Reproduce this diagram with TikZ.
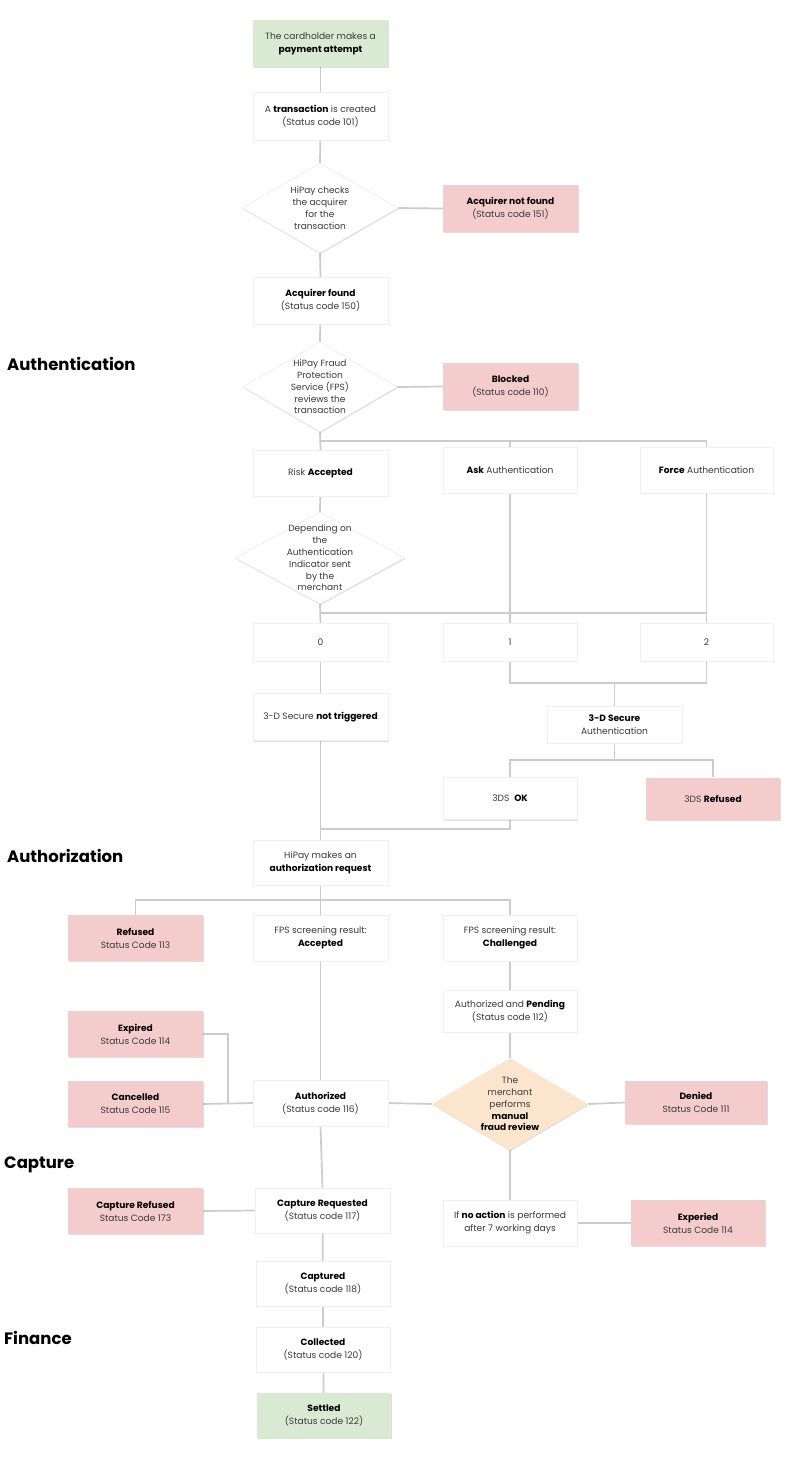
\documentclass[tikz,border=0pt]{standalone}
\usepackage{fontspec}
\setmainfont{Poppins}
\usetikzlibrary{shapes.geometric,shadows,backgrounds}
\definecolor{linec}{HTML}{CCCCCC}
\definecolor{greenc}{HTML}{D9EAD3}
\definecolor{pinkc}{HTML}{F4CCCC}
\definecolor{orangec}{HTML}{FCE5CD}
\definecolor{txtc}{HTML}{3A3A3A}
\newcommand{\bt}[1]{{\bfseries\color{black}#1}}
\tikzset{
  box/.style={rectangle, align=center, inner sep=1pt, text=txtc,
    font=\fontsize{9.1}{13}\selectfont,
    drop shadow={shadow xshift=0.8pt, shadow yshift=-1.4pt, fill=black, opacity=0.13}},
  wbox/.style={box, fill=white, draw=black!6, line width=0.4pt},
  gbox/.style={box, fill=greenc},
  pbox/.style={box, fill=pinkc},
  dia/.style={diamond, inner sep=0pt, fill=white, draw=black!9, line width=0.5pt,
    drop shadow={shadow xshift=0.6pt, shadow yshift=-1.2pt, fill=black, opacity=0.12}},
  odia/.style={dia, fill=orangec, draw=none},
  dtext/.style={align=center, text=txtc, font=\fontsize{9}{11.8}\selectfont},
  ln/.style={draw=linec, line width=1.7pt},
  head/.style={anchor=west, inner sep=0pt, font=\fontsize{16.5}{19}\selectfont\bfseries, text=black},
}
\begin{document}
\begin{tikzpicture}[x=1pt,y=-1pt]
\useasboundingbox (0,0) rectangle (800,1467);
% nodes
\node[gbox, minimum width=135pt, minimum height=47pt] (start) at (320.5,43.5) {The cardholder makes a\\\bt{payment attempt}};
\node[wbox, minimum width=135pt, minimum height=48pt] (trans) at (320.5,116) {A \bt{transaction} is created\\(Status code 101)};
\node[dia, minimum width=156pt, minimum height=90pt] (d1) at (320,208) {};
\node[dtext] (d1t) at (d1) {HiPay checks\\the acquirer\\for the\\transaction};
\node[pbox, minimum width=135pt, minimum height=47pt] (anf) at (510.5,208.5) {\bt{Acquirer not found}\\(Status code 151)};
\node[wbox, minimum width=135pt, minimum height=47pt] (afound) at (320.5,300.5) {\bt{Acquirer found}\\(Status code 150)};
\node[head] (hauth) at (7,364) {Authentication};
\node[dia, minimum width=154pt, minimum height=90pt] (d2) at (320,387) {};
\node[dtext] (d2t) at (d2) {HiPay Fraud\\Protection\\Service (FPS)\\reviews the\\transaction};
\node[pbox, minimum width=135pt, minimum height=47pt] (blocked) at (510.5,386.5) {\bt{Blocked}\\(Status code 110)};
\node[wbox, minimum width=135pt, minimum height=46pt] (risk) at (320.5,473) {Risk \bt{Accepted}};
\node[wbox, minimum width=134pt, minimum height=46pt] (ask) at (510,470) {\bt{Ask} Authentication};
\node[wbox, minimum width=133pt, minimum height=46pt] (force) at (706.5,470) {\bt{Force} Authentication};
\node[dia, minimum width=169pt, minimum height=92pt] (d3) at (320,558) {};
\node[dtext] (d3t) at (d3) {Depending on\\the\\Authentication\\Indicator sent\\by the\\merchant};
\node[wbox, minimum width=135pt, minimum height=38pt] (b0) at (320.5,642) {0};
\node[wbox, minimum width=134pt, minimum height=38pt] (b1) at (510,642) {1};
\node[wbox, minimum width=133pt, minimum height=38pt] (b2) at (706.5,642) {2};
\node[wbox, minimum width=135pt, minimum height=47pt] (nott) at (320.5,717) {3-D Secure \bt{not triggered}};
\node[wbox, minimum width=135pt, minimum height=37pt] (tds) at (614.5,724.5) {\bt{3-D Secure}\\Authentication};
\node[wbox, minimum width=134pt, minimum height=42pt] (ok) at (510,798.5) {3DS~ \bt{OK}};
\node[pbox, minimum width=134pt, minimum height=42pt] (refd) at (713,798.5) {3DS \bt{Refused}};
\node[head] (hautz) at (7,856) {Authorization};
\node[wbox, minimum width=135pt, minimum height=45pt] (areq) at (320.5,862.5) {HiPay makes an\\\bt{authorization request}};
\node[pbox, minimum width=135pt, minimum height=46pt] (refused) at (135.5,938) {\bt{Refused}\\Status Code 113};
\node[wbox, minimum width=135pt, minimum height=46pt] (fpsacc) at (320.5,938) {FPS screening result:\\\bt{Accepted}};
\node[wbox, minimum width=134pt, minimum height=46pt] (fpschal) at (510,938) {FPS screening result:\\\bt{Challenged}};
\node[wbox, minimum width=134pt, minimum height=42pt] (pend) at (510,1011) {Authorized and \bt{Pending}\\(Status code 112)};
\node[odia, minimum width=156pt, minimum height=92pt] (d4) at (510,1104) {};
\node[dtext] (d4t) at (d4) {The\\merchant\\performs\\\bt{manual}\\\bt{fraud review}};
\node[pbox, minimum width=135pt, minimum height=46pt] (expired) at (135.5,1034) {\bt{Expired}\\Status Code 114};
\node[pbox, minimum width=135pt, minimum height=46pt] (cancel) at (135.5,1104) {\bt{Cancelled}\\Status Code 115};
\node[wbox, minimum width=135pt, minimum height=46pt] (authd) at (320.5,1103) {\bt{Authorized}\\(Status code 116)};
\node[pbox, minimum width=142pt, minimum height=43pt] (denied) at (696,1102.5) {\bt{Denied}\\Status Code 111};
\node[head] (hcap) at (4,1165) {Capture};
\node[pbox, minimum width=135pt, minimum height=46pt] (capref) at (135.5,1211) {\bt{Capture Refused}\\Status Code 173};
\node[wbox, minimum width=135pt, minimum height=45pt] (capreq) at (322.5,1210.5) {\bt{Capture Requested}\\(Status code 117)};
\node[wbox, minimum width=134pt, minimum height=46pt] (noact) at (510,1223) {If \bt{no action} is performed\\after 7 working days};
\node[pbox, minimum width=134pt, minimum height=46pt] (exper) at (698,1223) {\bt{Experied}\\Status Code 114};
\node[wbox, minimum width=134pt, minimum height=45pt] (captured) at (323,1283.5) {\bt{Captured}\\(Status code 118)};
\node[head] (hfin) at (4,1338) {Finance};
\node[wbox, minimum width=134pt, minimum height=45pt] (collected) at (323,1349.5) {\bt{Collected}\\(Status code 120)};
\node[gbox, minimum width=134pt, minimum height=45pt] (settled) at (324,1415.5) {\bt{Settled}\\(Status code 122)};
% connectors
\begin{scope}[on background layer]
\fill[white] (0,0) rectangle (800,1467);
\draw[ln] (start) -- (trans);
\draw[ln] (trans) -- (d1.north);
\draw[ln] (d1.east) -- (anf.west);
\draw[ln] (d1.south) -- (afound.north);
\draw[ln] (afound) -- (d2.north);
\draw[ln] (d2.east) -- (blocked.west);
\path (d2.south) ++(0,9) coordinate (j1);
\draw[ln] (d2.south) -- (risk.north);
\draw[ln] (j1) -| (ask.north);
\draw[ln] (j1) -| (force.north);
\draw[ln] (risk) -- (d3.north);
\path (d3.south) ++(0,9) coordinate (j2);
\draw[ln] (d3.south) -- (b0.north);
\draw[ln] (ask.south) -- (b1.north);
\draw[ln] (force.south) -- (b2.north);
\draw[ln] (j2) -- (j2 -| force.south);
\path (tds.north) ++(0,-23) coordinate (j3);
\draw[ln] (b1.south) |- (j3) -| (b2.south);
\draw[ln] (j3) -- (tds.north);
\draw[ln] (b0) -- (nott);
\draw[ln] (nott) -- (areq);
\path (tds.south) ++(0,17) coordinate (j4);
\draw[ln] (tds.south) -- (j4);
\draw[ln] (ok.north) |- (j4) -| (refd.north);
\path (ok.south) ++(0,9) coordinate (j5);
\draw[ln] (ok.south) -- (j5) -- (j5 -| nott.south);
\path (areq.south) ++(0,15) coordinate (j6);
\draw[ln] (areq.south) -- (fpsacc.north);
\draw[ln] (refused.north) |- (j6) -| (fpschal.north);
\draw[ln] (fpsacc) -- (authd);
\draw[ln] (fpschal) -- (pend);
\draw[ln] (pend) -- (d4.north);
\path (cancel.east) ++(25,0) coordinate (j7);
\draw[ln] (expired.east) -| (j7);
\draw[ln] (cancel.east) -- (authd.west);
\draw[ln] (authd.east) -- (d4.west);
\draw[ln] (d4.east) -- (denied.west);
\draw[ln] (d4.south) -- (noact.north);
\draw[ln] (noact.east) -- (exper.west);
\draw[ln] (capref.east) -- (capreq.west);
\draw[ln] (authd.south) -- (capreq.north);
\draw[ln] (capreq) -- (captured);
\draw[ln] (captured) -- (collected);
\draw[ln] (collected) -- (settled);
\end{scope}
\end{tikzpicture}
\end{document}
